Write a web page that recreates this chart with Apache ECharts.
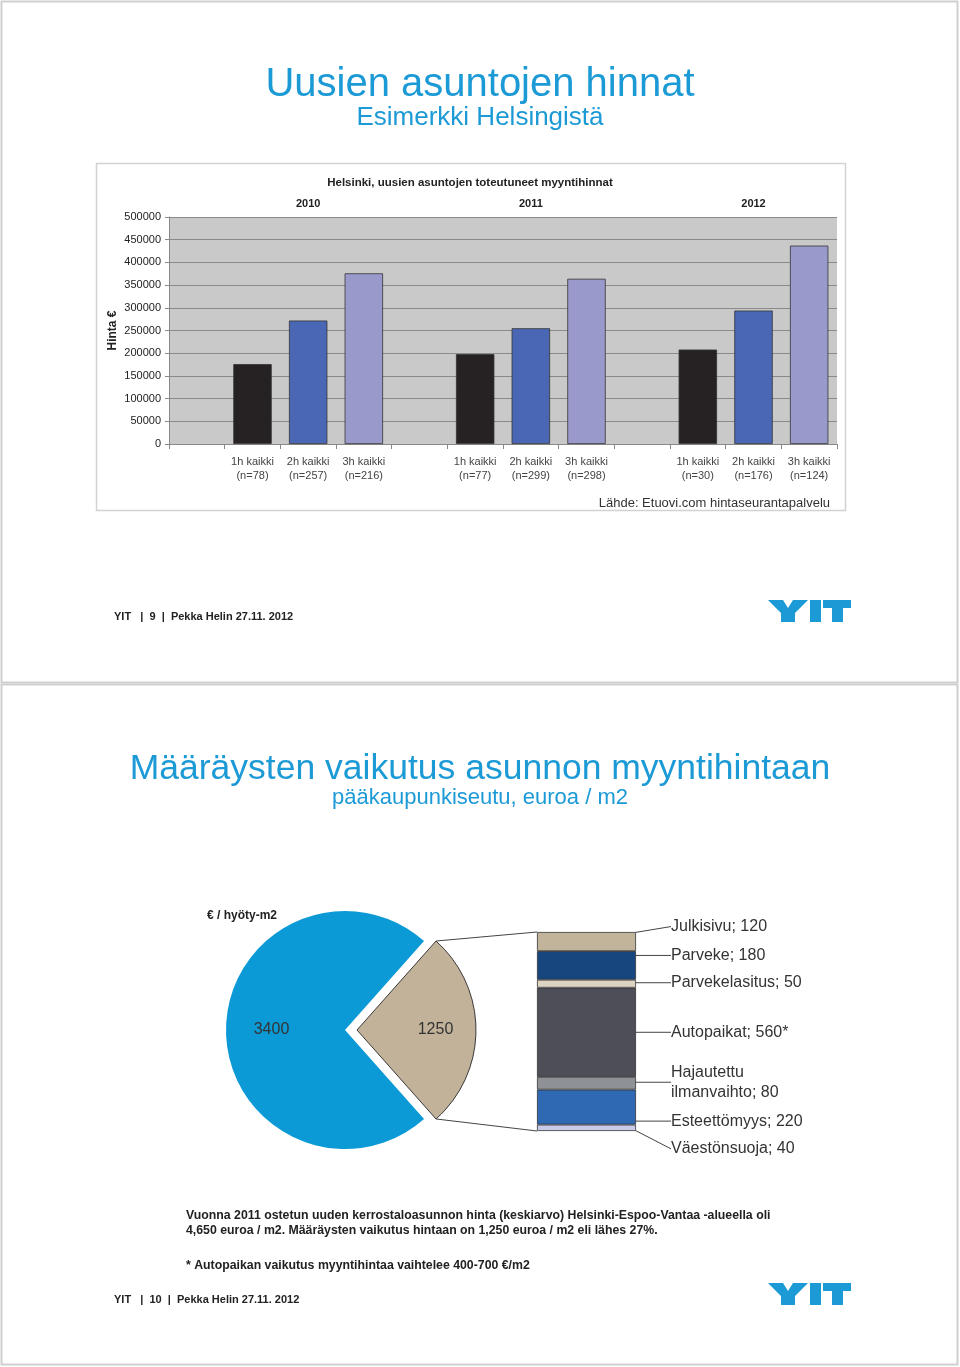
<!DOCTYPE html>
<html><head><meta charset="utf-8">
<script src="https://cdn.jsdelivr.net/npm/echarts@6/dist/echarts.min.js"></script>
<style>html,body{margin:0;padding:0;background:#fff}#c{width:960px;height:1367px}</style>
</head><body><div id="c"></div>
<script>
// ---------- data ----------
const barCategories = ['', '1h kaikki\n(n=78)', '2h kaikki\n(n=257)', '3h kaikki\n(n=216)',
  '', '1h kaikki\n(n=77)', '2h kaikki\n(n=299)', '3h kaikki\n(n=298)',
  '', '1h kaikki\n(n=30)', '2h kaikki\n(n=176)', '3h kaikki\n(n=124)'];
const barValues = [null, 176000, 272000, 376000, null, 198000, 255000, 364000, null, 208000, 294000, 437000];
const yearLabels = ['', '', '2010', '', '', '', '2011', '', '', '', '2012', ''];
const yMin = 0, yMax = 500000, yInterval = 50000;
const barTitle = 'Helsinki, uusien asuntojen toteutuneet myyntihinnat';
const yName = 'Hinta €';
const sourceText = 'Lähde: Etuovi.com hintaseurantapalvelu';

const pieNames = ['Määräykset', 'Muu hinta'];
const pieValues = [1250, 3400];
const stackNames = ['Julkisivu', 'Parveke', 'Parvekelasitus', 'Autopaikat', 'Hajautettu\nilmanvaihto', 'Esteettömyys', 'Väestönsuoja'];
const stackValues = [120, 180, 50, 560, 80, 220, 40];
const stackSuffix = ['', '', '', '*', '', '', ''];

// ---------- styles / layout ----------
const FONT = '"Liberation Sans", Arial, sans-serif';
const NARROW = '"Liberation Sans Narrow", "Liberation Sans", Arial, sans-serif';
const BLUE = '#1c9ad6';
const barColors = ['#262223', '#4a67b5', '#9a99cc'];
const pieColors = ['#c1b299', '#0b9ad6'];
const stackColors = ['#c2b49a', '#17467f', '#ddd4c4', '#4e4e58', '#8e9296', '#2f69b3', '#c9c9e8'];
const stackLabelDy = [-15, -10, -1, 0, -1, 14, 21];

const pieCenter = [345, 1030], pieR = 119, pieOffset = 12;
const sg = {left: 537, top: 932, width: 99, height: 199};
const pieTotal = pieValues.reduce((a, b) => a + b, 0);
const halfAngle = pieValues[0] / pieTotal * 180;

function txt(text, x, y, size, opts) {
  opts = opts || {};
  return {type: 'text', x: x, y: y, silent: true, style: {
    text: text, fill: opts.color || '#222', fontSize: size,
    fontFamily: opts.family || FONT, fontWeight: opts.weight || 'normal',
    align: opts.align || 'left', textAlign: opts.align || 'left',
    verticalAlign: 'middle', textVerticalAlign: 'middle', lineHeight: opts.lh || size * 1.2
  }};
}
function logo(x0, y0) {
  const pts = [
    [[0,0],[15,0],[20,8],[25,0],[40,0],[27,13],[27,22],[13,22],[13,13]],
    [[42,0],[53,0],[53,22],[42,22]],
    [[55,0],[83,0],[83,8],[75,8],[75,22],[64,22],[64,8],[55,8]]
  ];
  return pts.map(p => ({type: 'polygon', silent: true,
    shape: {points: p.map(q => [x0 + q[0], y0 + q[1]])}, style: {fill: BLUE}}));
}

// connector lines from exploded slice to stacked bar
const rad = halfAngle * Math.PI / 180;
const sx = pieCenter[0] + pieOffset + pieR * Math.cos(rad);
const syT = pieCenter[1] - pieR * Math.sin(rad);
const syB = pieCenter[1] + pieR * Math.sin(rad);

const graphic = [
  {type: 'rect', silent: true, shape: {x: 1.5, y: 1.5, width: 956, height: 681}, style: {fill: 'none', stroke: '#cfcfcf', lineWidth: 2}},
  {type: 'rect', silent: true, shape: {x: 1.5, y: 684.5, width: 956, height: 680}, style: {fill: 'none', stroke: '#cfcfcf', lineWidth: 2}},
  {type: 'rect', silent: true, shape: {x: 96.5, y: 163.5, width: 749, height: 347}, style: {fill: 'none', stroke: '#d2d2d2', lineWidth: 1.5}},
  txt('Uusien asuntojen hinnat', 480, 85, 40, {color: BLUE, align: 'center'}),
  txt('Esimerkki Helsingistä', 480, 118, 26, {color: BLUE, align: 'center'}),
  txt(barTitle, 470, 183, 11.5, {weight: 'bold', family: NARROW, align: 'center'}),
  txt(sourceText, 830, 503, 13, {color: '#333', align: 'right'}),
  txt('YIT   |  9  |  Pekka Helin 27.11. 2012', 114, 617, 11, {weight: 'bold', family: NARROW}),
  txt('Määräysten vaikutus asunnon myyntihintaan', 480, 769, 35.5, {color: BLUE, align: 'center'}),
  txt('pääkaupunkiseutu, euroa / m2', 480, 798, 22, {color: BLUE, align: 'center'}),
  txt('€ / hyöty-m2', 207, 916, 12, {weight: 'bold', family: NARROW}),
  txt('Vuonna 2011 ostetun uuden kerrostaloasunnon hinta (keskiarvo) Helsinki-Espoo-Vantaa -alueella oli', 186, 1216, 12.3, {weight: 'bold', family: NARROW}),
  txt('4,650 euroa / m2. Määräysten vaikutus hintaan on 1,250 euroa / m2 eli lähes 27%.', 186, 1231, 12.3, {weight: 'bold', family: NARROW}),
  txt('* Autopaikan vaikutus myyntihintaa vaihtelee 400-700 €/m2', 186, 1266, 12.3, {weight: 'bold', family: NARROW}),
  txt('YIT   |  10  |  Pekka Helin 27.11. 2012', 114, 1300, 11, {weight: 'bold', family: NARROW}),
  {type: 'line', silent: true, shape: {x1: sx, y1: syT, x2: sg.left, y2: sg.top}, style: {stroke: '#444', lineWidth: 1}},
  {type: 'line', silent: true, shape: {x1: sx, y1: syB, x2: sg.left, y2: sg.top + sg.height}, style: {stroke: '#444', lineWidth: 1}}
].concat(logo(768, 600), logo(768, 1283));

// stacked series: first series at bottom, so iterate bottom-up
const stackSeries = [];
for (let i = stackNames.length - 1; i >= 0; i--) {
  stackSeries.push({
    type: 'bar', name: stackNames[i], stack: 'm', xAxisIndex: 2, yAxisIndex: 1,
    barWidth: '100%', silent: true,
    data: [stackValues[i]],
    itemStyle: {color: stackColors[i], borderColor: '#333', borderWidth: 0.8},
    label: {show: true, position: 'right', distance: 35, fontSize: 16, color: '#333',
      fontFamily: FONT, lineHeight: 20, align: 'left',
      formatter: () => stackNames[i] + '; ' + stackValues[i] + stackSuffix[i]},
    labelLayout: {dy: stackLabelDy[i]},
    labelLine: {show: true, lineStyle: {color: '#444', width: 1}}
  });
}

const option = {
  animation: false,
  backgroundColor: '#fff',
  graphic: graphic,
  grid: [
    {left: 169, right: 123, top: 217, height: 227, show: true, backgroundColor: '#c9c9c9', borderWidth: 0},
    {left: sg.left, top: sg.top, width: sg.width, height: sg.height}
  ],
  xAxis: [
    {type: 'category', gridIndex: 0, data: barCategories, boundaryGap: true,
      axisLine: {lineStyle: {color: '#888'}},
      axisTick: {show: true, alignWithLabel: false, length: 5, lineStyle: {color: '#888'}, interval: 0},
      axisLabel: {interval: 0, fontSize: 11, color: '#444', fontFamily: FONT, lineHeight: 14, margin: 11}},
    {type: 'category', gridIndex: 0, position: 'top', data: yearLabels,
      axisLine: {show: false}, axisTick: {show: false},
      axisLabel: {interval: 0, fontSize: 11, fontWeight: 'bold', color: '#222', fontFamily: NARROW, margin: 8}},
    {type: 'category', gridIndex: 1, data: ['m'], show: false}
  ],
  yAxis: [
    {type: 'value', gridIndex: 0, min: yMin, max: yMax, interval: yInterval,
      name: yName, nameLocation: 'middle', nameRotate: 90, nameGap: 50, nameMoveOverlap: false,
      nameTextStyle: {fontSize: 12, fontWeight: 'bold', color: '#222', fontFamily: FONT},
      axisLine: {show: true, lineStyle: {color: '#888'}},
      axisTick: {show: true, length: 4, lineStyle: {color: '#888'}},
      axisLabel: {fontSize: 11, color: '#222', fontFamily: FONT, margin: 8, formatter: v => String(v)},
      splitLine: {show: true, lineStyle: {color: '#8a8a8a', width: 1}}},
    {type: 'value', gridIndex: 1, min: 0, max: pieValues[0], show: false, splitLine: {show: false}}
  ],
  series: [
    {type: 'bar', xAxisIndex: 0, yAxisIndex: 0, barWidth: '69%', silent: true,
      data: barValues.map((v, i) => v == null ? null : ({value: v, itemStyle: {color: barColors[(i % 4) - 1]}})),
      itemStyle: {borderColor: '#333', borderWidth: 0.8}},
    {type: 'pie', center: pieCenter, radius: pieR, startAngle: halfAngle, clockwise: true,
      selectedMode: 'single', selectedOffset: pieOffset, silent: false,
      emphasis: {disabled: true},
      data: pieValues.map((v, i) => ({value: v, name: pieNames[i], selected: i === 0,
        itemStyle: i === 0 ? {color: pieColors[i], borderColor: '#3a3a3a', borderWidth: 1} : {color: pieColors[i], borderWidth: 0}})),
      label: {show: true, position: 'inside', formatter: '{c}', fontSize: 16, color: '#333', fontFamily: FONT},
      labelLayout: p => ({dx: p.dataIndex === 0 ? 16 : -11}),
      labelLine: {show: false}}
  ].concat(stackSeries)
};
const chart = echarts.init(document.getElementById('c'), null, {renderer: 'canvas'});
chart.setOption(option);
</script></body></html>
